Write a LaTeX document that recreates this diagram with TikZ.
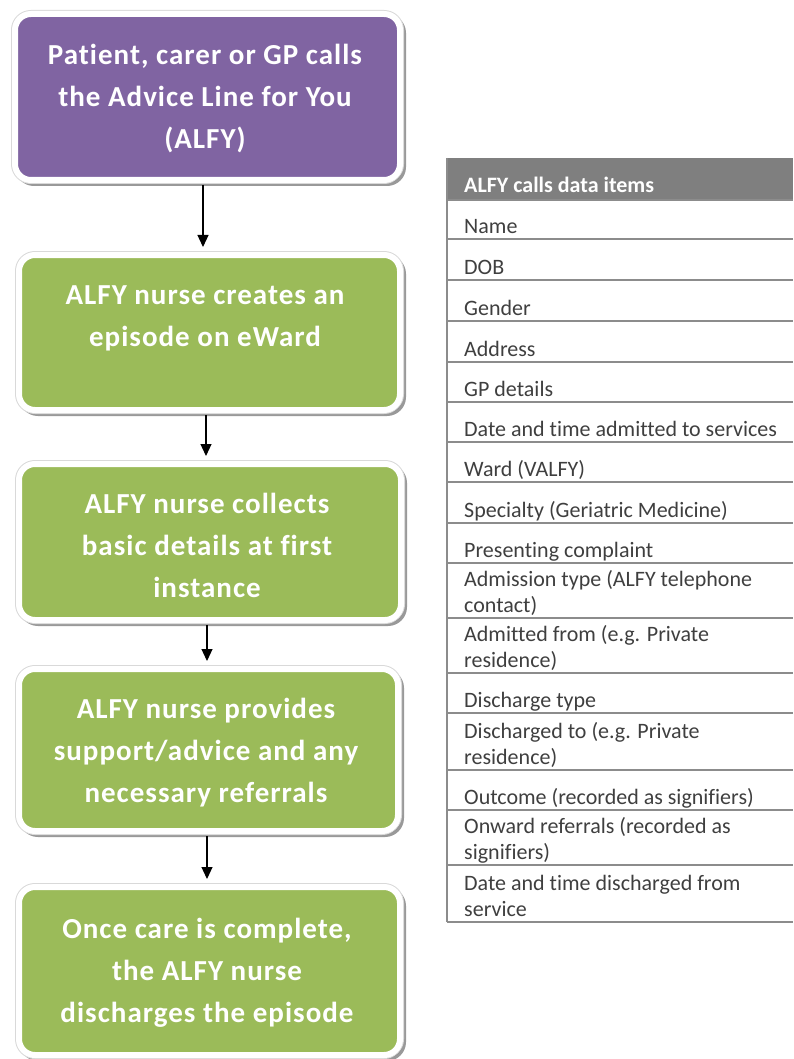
\documentclass[tikz,border=0pt]{standalone}
\usepackage{fontspec}
\setmainfont{Carlito}[Ligatures={NoCommon}]
\newfontfamily\stepfont[LetterSpace=3.5,Ligatures={NoCommon}]{Carlito}
\usetikzlibrary{arrows.meta,shadows}
\definecolor{alfypurple}{HTML}{8064A2}
\definecolor{alfygreen}{HTML}{9BBB59}
\definecolor{headgrey}{HTML}{7F7F7F}
\definecolor{rulegrey}{HTML}{8C8C8C}
\definecolor{itemgrey}{HTML}{3F3F3F}

\begin{document}
\begin{tikzpicture}[x=1pt,y=-1pt,
  stepbox/.style={rectangle, rounded corners=16pt, inner sep=0pt,
    drop shadow={shadow xshift=3pt, shadow yshift=-3pt, fill=black, draw=black,
                 line width=6pt, opacity=0.4},
    preaction={draw=black!15, line width=8pt},
    draw=white, line width=6pt},
  steptext/.style={text=white, inner sep=0pt, align=center,
    font=\stepfont\bfseries\fontsize{29}{42}\selectfont},
  flow/.style={line width=1.2pt, -{Triangle[width=11pt,length=12pt]},
    shorten <=2pt, shorten >=5pt},
  itemtext/.style={anchor=south west, inner sep=0pt, text depth=0pt, align=left,
    text=itemgrey, font=\fontsize{22}{26}\selectfont},
  rowrule/.style={draw=rulegrey, line width=1.3pt},
]
\useasboundingbox (0,0) rectangle (793,1059);

% flow of an ALFY call
\node[stepbox, fill=alfypurple, minimum width=385pt, minimum height=166pt] (b1) at (207.5,97) {};
\node[stepbox, fill=alfygreen, minimum width=381pt, minimum height=155pt] (b2) at (209.5,332.5) {};
\node[stepbox, fill=alfygreen, minimum width=382pt, minimum height=156pt] (b3) at (210,542) {};
\node[stepbox, fill=alfygreen, minimum width=379pt, minimum height=162pt] (b4) at (208.5,750) {};
\node[stepbox, fill=alfygreen, minimum width=381pt, minimum height=168pt] (b5) at (209.5,971) {};

\node[steptext] (t1) at (205,99) {Patient, carer or GP calls\\the Advice Line for You\\(ALFY)};
\node[steptext] (t2) at (205,318) {ALFY nurse creates an\\episode on eWard};
\node[steptext] (t3) at (207,545.5) {ALFY nurse collects\\basic details at first\\instance};
\node[steptext] (t4) at (206,753) {ALFY nurse provides\\support/advice  and any\\necessary referrals};
\node[steptext] (t5) at (207,972.5) {Once care is complete,\\the ALFY nurse\\discharges the episode};

\draw[flow] ([xshift=-4.5pt]b1.south) -- ([xshift=-6.5pt]b2.north);
\draw[flow] ([xshift=-3.5pt]b2.south) -- ([xshift=-4pt]b3.north);
\draw[flow] ([xshift=-3pt]b3.south) -- ([xshift=-1.5pt]b4.north);
\draw[flow] ([xshift=-1.5pt]b4.south) -- ([xshift=-2.5pt]b5.north);

% data items table
\fill[headgrey] (447,158) rectangle (793,200);
\node[anchor=base west, inner sep=0pt, text=white,
      font=\bfseries\fontsize{22}{26}\selectfont] (head) at (464,193) {ALFY calls data items};
\foreach \y in {200,239,280,321,362,402,442,482,523,563,618,673,713,770,810,865,922}
  \draw[rowrule] (447,\y) -- (793,\y);
\draw[rowrule] (447,158) -- (447,922);

\foreach \i/\b/\t in {
   1/239/{Name},
   2/280/{DOB},
   3/321/{Gender},
   4/362/{Address},
   5/402/{GP details},
   6/442/{Date and time admitted to services},
   7/482/{Ward (VALFY)},
   8/523/{Specialty (Geriatric Medicine)},
   9/563/{Presenting complaint},
  10/618/{Admission type (ALFY telephone\\contact)},
  11/673/{Admitted from (e.g. Private\\residence)},
  12/713/{Discharge type},
  13/770/{Discharged to (e.g. Private\\residence)},
  14/810/{Outcome (recorded as signifiers)},
  15/865/{Onward referrals (recorded as\\signifiers)},
  16/922/{Date and time discharged from\\service}}
  \node[itemtext] (item\i) at (464,\b-5) {\t};
\end{tikzpicture}
\end{document}
